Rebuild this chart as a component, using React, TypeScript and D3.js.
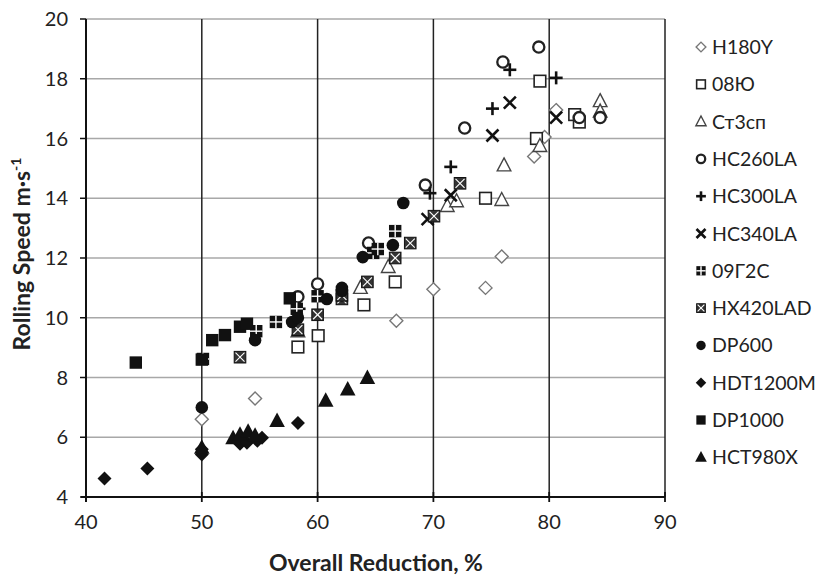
import React from "react";
import * as d3 from "d3";

const xTicks = [40, 50, 60, 70, 80, 90];
const yTicks = [4, 6, 8, 10, 12, 14, 16, 18, 20];

const h180y = [[50, 6.6], [54.6, 7.3], [66.8, 9.9], [70, 10.95], [74.5, 11.0], [75.9, 12.05], [78.7, 15.4], [79.6, 16.05], [80.6, 16.95]];
const s08yu = [[58.3, 9.02], [60.05, 9.4], [64.0, 10.43], [66.7, 11.2], [74.5, 14.0], [79.2, 17.92], [78.9, 16.0], [82.2, 16.8], [82.6, 16.55]];
const st3sp = [[58.3, 9.55], [63.7, 11.0], [66.1, 11.7], [71.2, 13.74], [72.0, 13.9], [75.9, 13.94], [76.1, 15.1], [79.2, 15.75], [84.4, 17.25], [84.4, 16.9]];
const hc260la = [[58.3, 10.7], [60.0, 11.13], [64.4, 12.5], [69.3, 14.44], [72.7, 16.35], [76.0, 18.56], [79.1, 19.06], [82.6, 16.7], [84.4, 16.7]];
const hc300la = [[58.4, 10.3], [69.7, 14.17], [71.5, 15.05], [75.1, 17.0], [76.6, 18.3], [80.6, 18.03]];
const hc340la = [[69.5, 13.3], [71.5, 14.1], [75.1, 16.1], [76.6, 17.2], [80.6, 16.7]];
const g09g2s = [[50.1, 8.62], [54.7, 9.55], [56.4, 9.86], [58.2, 10.3], [60.0, 10.72], [64.8, 12.17], [65.2, 12.3], [66.7, 12.9]];
const hx420lad = [[53.3, 8.68], [58.3, 9.6], [60.0, 10.1], [62.1, 10.63], [62.1, 10.75], [64.3, 11.2], [66.7, 12.0], [68.0, 12.5], [70.05, 13.4], [72.3, 14.5]];
const dp600 = [[50.0, 7.0], [54.6, 9.25], [57.8, 9.86], [58.3, 10.0], [60.8, 10.63], [62.1, 10.9], [62.1, 11.0], [63.9, 12.03], [66.5, 12.43], [67.4, 13.84]];
const hdt1200m = [[41.6, 4.62], [45.3, 4.95], [50.0, 5.42], [50.0, 5.6], [53.3, 5.78], [53.9, 5.82], [54.8, 5.88], [55.2, 5.98], [58.3, 6.48]];
const dp1000 = [[44.3, 8.5], [50.0, 8.6], [50.9, 9.25], [52.0, 9.42], [53.3, 9.7], [53.9, 9.8], [57.6, 10.65]];
const hct980x = [[50.0, 5.65], [52.7, 5.97], [53.3, 6.08], [54.0, 6.18], [54.6, 6.05], [56.5, 6.54], [60.7, 7.22], [62.6, 7.6], [64.3, 7.98]];

const seriesNames = ["H180Y", "08Ю", "Ст3сп", "HC260LA", "HC300LA", "HC340LA", "09Г2С", "HX420LAD", "DP600", "HDT1200M", "DP1000", "HCT980X"];
const seriesData = [h180y, s08yu, st3sp, hc260la, hc300la, hc340la, g09g2s, hx420lad, dp600, hdt1200m, dp1000, hct980x];
const seriesKinds = ["diamondOpen", "squareOpen", "triangleOpen", "circleOpen", "plus", "cross", "sqPlus", "sqX", "dot", "diamondFill", "squareFill", "triangleFill"];

const FONT = "Lato, 'Open Sans', sans-serif";

function Marker({ kind, cx, cy, k }: { kind: string; cx: number; cy: number; k: number }) {
  const s = (v: number) => v * k;
  switch (kind) {
    case "diamondOpen":
      return <path d={`M${cx},${cy - s(6.5)}L${cx + s(6.5)},${cy}L${cx},${cy + s(6.5)}L${cx - s(6.5)},${cy}Z`} fill="#fff" stroke="#777" strokeWidth={1.4} />;
    case "squareOpen":
      return <rect x={cx - s(5.8)} y={cy - s(5.8)} width={s(11.6)} height={s(11.6)} fill="#fff" stroke="#222" strokeWidth={1.6} />;
    case "triangleOpen":
      return <path d={`M${cx},${cy - s(7.5)}L${cx + s(6.8)},${cy + s(5.5)}L${cx - s(6.8)},${cy + s(5.5)}Z`} fill="#fff" stroke="#444" strokeWidth={1.4} />;
    case "circleOpen":
      return <circle cx={cx} cy={cy} r={s(5.6)} fill="#fff" stroke="#222" strokeWidth={2.3} />;
    case "plus":
      return (
        <g stroke="#111" strokeWidth={2.6}>
          <line x1={cx - s(6.5)} x2={cx + s(6.5)} y1={cy} y2={cy} />
          <line x1={cx} x2={cx} y1={cy - s(6.5)} y2={cy + s(6.5)} />
        </g>
      );
    case "cross":
      return (
        <g stroke="#111" strokeWidth={2.6}>
          <line x1={cx - s(6)} x2={cx + s(6)} y1={cy - s(6)} y2={cy + s(6)} />
          <line x1={cx - s(6)} x2={cx + s(6)} y1={cy + s(6)} y2={cy - s(6)} />
        </g>
      );
    case "sqPlus":
      return (
        <g>
          <rect x={cx - s(6.2)} y={cy - s(6.2)} width={s(12.4)} height={s(12.4)} fill="#111" />
          <line x1={cx - s(6.2)} x2={cx + s(6.2)} y1={cy} y2={cy} stroke="#fff" strokeWidth={1.4} />
          <line x1={cx} x2={cx} y1={cy - s(6.2)} y2={cy + s(6.2)} stroke="#fff" strokeWidth={1.4} />
        </g>
      );
    case "sqX":
      return (
        <g>
          <rect x={cx - s(5.8)} y={cy - s(5.8)} width={s(11.6)} height={s(11.6)} fill="#333" stroke="#111" strokeWidth={1} />
          <line x1={cx - s(4.5)} x2={cx + s(4.5)} y1={cy - s(4.5)} y2={cy + s(4.5)} stroke="#fff" strokeWidth={1.1} />
          <line x1={cx - s(4.5)} x2={cx + s(4.5)} y1={cy + s(4.5)} y2={cy - s(4.5)} stroke="#fff" strokeWidth={1.1} />
        </g>
      );
    case "dot":
      return <circle cx={cx} cy={cy} r={s(6.3)} fill="#111" />;
    case "diamondFill":
      return <path d={`M${cx},${cy - s(7)}L${cx + s(7)},${cy}L${cx},${cy + s(7)}L${cx - s(7)},${cy}Z`} fill="#111" />;
    case "squareFill":
      return <rect x={cx - s(6.2)} y={cy - s(6.2)} width={s(12.4)} height={s(12.4)} fill="#111" />;
    case "triangleFill":
      return <path d={`M${cx},${cy - s(8.5)}L${cx + s(7.8)},${cy + s(6)}L${cx - s(7.8)},${cy + s(6)}Z`} fill="#111" />;
    default:
      return null;
  }
}

export default function App() {
  const x = d3.scaleLinear().domain([40, 90]).range([86, 665]);
  const y = d3.scaleLinear().domain([4, 20]).range([497, 19]);

  return (
    <svg width={824} height={575} style={{ position: "absolute", left: 0, top: 0, background: "#fff" }} fontFamily={FONT}>
      <rect width={824} height={575} fill="#fff" />
      {/* horizontal gridlines */}
      {yTicks.filter((t) => t > 4).map((t) => (
        <line key={"hg" + t} x1={x(40)} x2={x(90)} y1={y(t)} y2={y(t)} stroke="#a8a8a8" strokeWidth={1.3} />
      ))}
      {/* vertical gridlines */}
      {xTicks.filter((t) => t > 40).map((t) => (
        <line key={"vg" + t} x1={x(t)} x2={x(t)} y1={y(20)} y2={y(4)} stroke="#222" strokeWidth={1.5} />
      ))}
      {/* axes */}
      <line x1={x(40)} x2={x(40)} y1={y(20)} y2={y(4) + 5} stroke="#111" strokeWidth={2} />
      <line x1={x(40) - 5} x2={x(90)} y1={y(4)} y2={y(4)} stroke="#111" strokeWidth={2} />
      {yTicks.map((t) => (
        <g key={"yt" + t}>
          <line x1={x(40) - 6} x2={x(40)} y1={y(t)} y2={y(t)} stroke="#111" strokeWidth={1.5} />
          <text x={x(40) - 18} y={y(t)} dy="0.35em" textAnchor="end" fontSize={20} fill="#222">{t}</text>
        </g>
      ))}
      {xTicks.map((t) => (
        <g key={"xt" + t}>
          <line x1={x(t)} x2={x(t)} y1={y(4) - 5} y2={y(4) + 5} stroke="#111" strokeWidth={1.8} />
          <text x={x(t)} y={y(4) + 32} textAnchor="middle" fontSize={20} fill="#222">{t}</text>
        </g>
      ))}
      {/* axis titles */}
      <text x={376} y={571} textAnchor="middle" fontSize={23} fontWeight="bold" fill="#222">Overall Reduction, %</text>
      <text transform={`translate(30,${(y(20) + y(4)) / 2 - 4}) rotate(-90)`} textAnchor="middle" fontSize={23} fontWeight="bold" fill="#222">
        Rolling Speed m·s<tspan dy={-9} fontSize={14}>-1</tspan>
      </text>
      {/* points */}
      {seriesData.map((data, i) => (
        <g key={"s" + i}>
          {data.map((d, j) => (
            <Marker key={j} kind={seriesKinds[i]} cx={x(d[0])} cy={y(d[1])} k={1} />
          ))}
        </g>
      ))}
      {/* legend */}
      {seriesNames.map((name, i) => {
        const ly = 47 + i * 37.3;
        return (
          <g key={"lg" + i}>
            <Marker kind={seriesKinds[i]} cx={701} cy={ly} k={0.75} />
            <text x={712} y={ly} dy="0.36em" fontSize={19.5} fill="#222">{name}</text>
          </g>
        );
      })}
    </svg>
  );
}
